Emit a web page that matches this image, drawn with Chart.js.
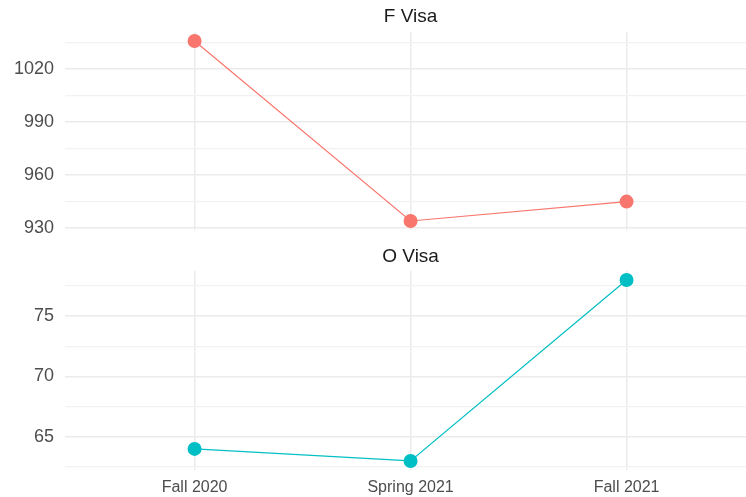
<!DOCTYPE html>
<html>
<head>
<meta charset="utf-8">
<script src="https://cdn.jsdelivr.net/npm/chart.js@4"></script>
<style>
  html, body { margin:0; padding:0; background:#fff; }
  #wrap { position:relative; width:746px; height:497px; overflow:hidden; }
  .panel { position:absolute; left:0; width:746px; }
  #top { top:0; height:240px; }
  #bot { top:240px; height:257px; }
</style>
</head>
<body>
<div id="wrap">
  <div class="panel" id="top"><canvas id="chartF"></canvas></div>
  <div class="panel" id="bot"><canvas id="chartO"></canvas></div>
</div>
<script>
// terms on the x axis
const categories = ['Fall 2020', 'Spring 2021', 'Fall 2021'];
// counts per facet
const fVisa = [1036, 934, 945];
const oVisa = [64, 63, 78];
// labelled ticks and minor grid lines per facet
const fTicks = [930, 960, 990, 1020];
const fMinor = [945, 975, 1005, 1035];
const oTicks = [65, 70, 75];
const oMinor = [62.5, 67.5, 72.5, 77.5];

const RED = '#F8766D';
const CYAN = '#00BFC4';
const FONT = "'Liberation Sans', Arial, sans-serif";

// ggplot-like 5% expansion of the data range
function expand(vals){
  const lo = Math.min(...vals), hi = Math.max(...vals);
  const pad = (hi - lo) * 0.05;
  return {min: lo - pad, max: hi + pad};
}

// strip title drawn above the panel, centred on the panel middle
function stripPlugin(text, y){
  return {
    id: 'strip',
    afterDraw(chart){
      const ctx = chart.ctx;
      const x = chart.scales.x.getPixelForValue(1);
      ctx.save();
      ctx.font = '19px ' + FONT;
      ctx.fillStyle = '#1A1A1A';
      ctx.textAlign = 'center';
      ctx.textBaseline = 'middle';
      ctx.fillText(text, x, y);
      ctx.restore();
    }
  };
}

function makeChart(id, values, color, ticks, minor, title, showX){
  const range = expand(values);
  const allTicks = ticks.concat(minor).sort((a,b) => a-b);
  return new Chart(document.getElementById(id), {
    type: 'line',
    data: {
      datasets: [{
        data: values.map((v,i) => ({x:i, y:v})),
        borderColor: color,
        backgroundColor: color,
        borderWidth: 1.2,
        pointRadius: 7,
        pointBorderWidth: 0,
        pointHoverRadius: 7,
        tension: 0,
        clip: false
      }]
    },
    options: {
      responsive: true,
      maintainAspectRatio: false,
      animation: false,
      events: [],
      layout: {
        autoPadding: false,
        padding: { top: showX ? 31 : 32, bottom: showX ? 0 : 10, left: 0, right: 0 }
      },
      plugins: { legend: {display:false}, tooltip: {enabled:false} },
      scales: {
        x: {
          type: 'linear',
          min: -0.6,
          max: 2.553,
          afterBuildTicks: s => { s.ticks = categories.map((c,i) => ({value:i})); },
          afterFit: s => {
            s.height = showX ? 27 : 0;
            s.paddingLeft = 0; s.paddingRight = 0;
          },
          border: {display:false},
          grid: { color:'#EBEBEB', lineWidth:1.5, drawTicks:false },
          ticks: {
            display: showX,
            padding: 8,
            color: '#4D4D4D',
            font: { family: FONT, size: 16 },
            callback: v => categories[v]
          }
        },
        y: {
          min: range.min,
          max: range.max,
          afterBuildTicks: s => { s.ticks = allTicks.map(v => ({value:v})); },
          afterFit: s => {
            s.width = 65;
            s.paddingTop = 0; s.paddingBottom = 0;
          },
          border: {display:false},
          grid: {
            drawTicks: false,
            color: c => ticks.includes(c.tick.value) ? '#EBEBEB' : '#F2F2F2',
            lineWidth: c => ticks.includes(c.tick.value) ? 1.5 : 1.2
          },
          ticks: {
            padding: 11,
            color: '#4D4D4D',
            font: { family: FONT, size: 18 },
            callback: v => ticks.includes(v) ? String(v) : ''
          }
        }
      }
    },
    plugins: [stripPlugin(title, 16.5)]
  });
}

makeChart('chartF', fVisa, RED, fTicks, fMinor, 'F Visa', false);
makeChart('chartO', oVisa, CYAN, oTicks, oMinor, 'O Visa', true);
</script>
</body>
</html>
